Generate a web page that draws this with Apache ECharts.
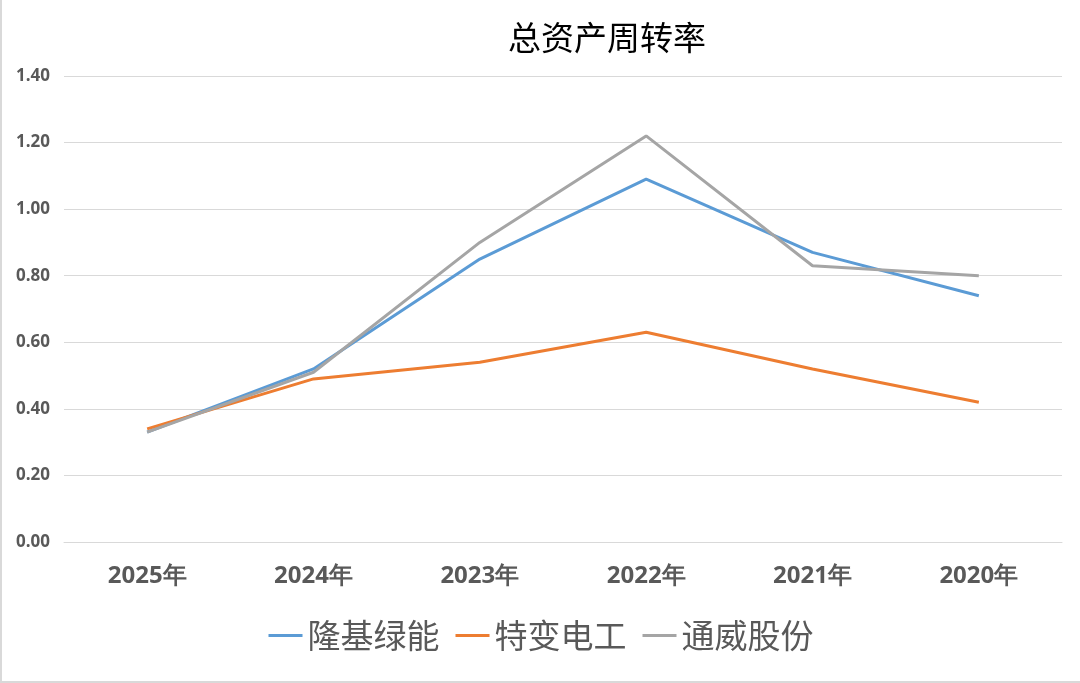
<!DOCTYPE html>
<html>
<head>
<meta charset="utf-8">
<script src="https://cdn.jsdelivr.net/npm/echarts@6/dist/echarts.min.js"></script>
<style>
html,body{margin:0;padding:0;background:#fff;}
#c{width:1080px;height:683px;box-sizing:border-box;border-left:2px solid #d9d9d9;border-bottom:2px solid #d9d9d9;}
</style>
</head>
<body>
<div id="c"></div>
<script>
const categories = ['2025年','2024年','2023年','2022年','2021年','2020年'];
const longi = [0.33, 0.52, 0.85, 1.09, 0.87, 0.74];
const tbea = [0.34, 0.49, 0.54, 0.63, 0.52, 0.42];
const tongwei = [0.33, 0.51, 0.90, 1.22, 0.83, 0.80];
const seriesNames = ['隆基绿能','特变电工','通威股份'];
const colors = ['#5B9BD5','#ED7D31','#A5A5A5'];

const chart = echarts.init(document.getElementById('c'));
const mk = (name, data, color) => ({
  name, type:'line', data, symbol:'none', smooth:false,
  lineStyle:{color, width:3}, itemStyle:{color}
});
chart.setOption({
  animation:false,
  title:{text:'总资产周转率', left:600, top:16, textAlign:'center',
    textStyle:{fontFamily:'Noto Sans CJK SC', fontSize:33, fontWeight:'normal', color:'#000'}},
  legend:{bottom:24, left:'center', itemWidth:34, itemHeight:3, itemGap:16,
    icon:'rect',
    textStyle:{fontFamily:'Noto Sans CJK SC', fontSize:33, color:'#595959'},
    data:seriesNames},
  grid:{left:62, right:18, top:76, bottom:139},
  xAxis:{type:'category', data:categories, boundaryGap:true,
    axisLine:{show:true, lineStyle:{color:'#d9d9d9'}}, axisTick:{show:false},
    axisLabel:{fontFamily:'Open Sans', fontWeight:'bold', fontSize:24, color:'#595959', margin:22}},
  yAxis:{type:'value', min:0, max:1.4, interval:0.2,
    axisLine:{show:false}, axisTick:{show:false},
    splitLine:{lineStyle:{color:'#d9d9d9', width:1}},
    axisLabel:{formatter:v=>v.toFixed(2), fontFamily:'Open Sans', fontWeight:'bold', fontSize:17, color:'#595959', margin:14}},
  series:[mk(seriesNames[0], longi, colors[0]), mk(seriesNames[1], tbea, colors[1]), mk(seriesNames[2], tongwei, colors[2])]
});
</script>
</body>
</html>
